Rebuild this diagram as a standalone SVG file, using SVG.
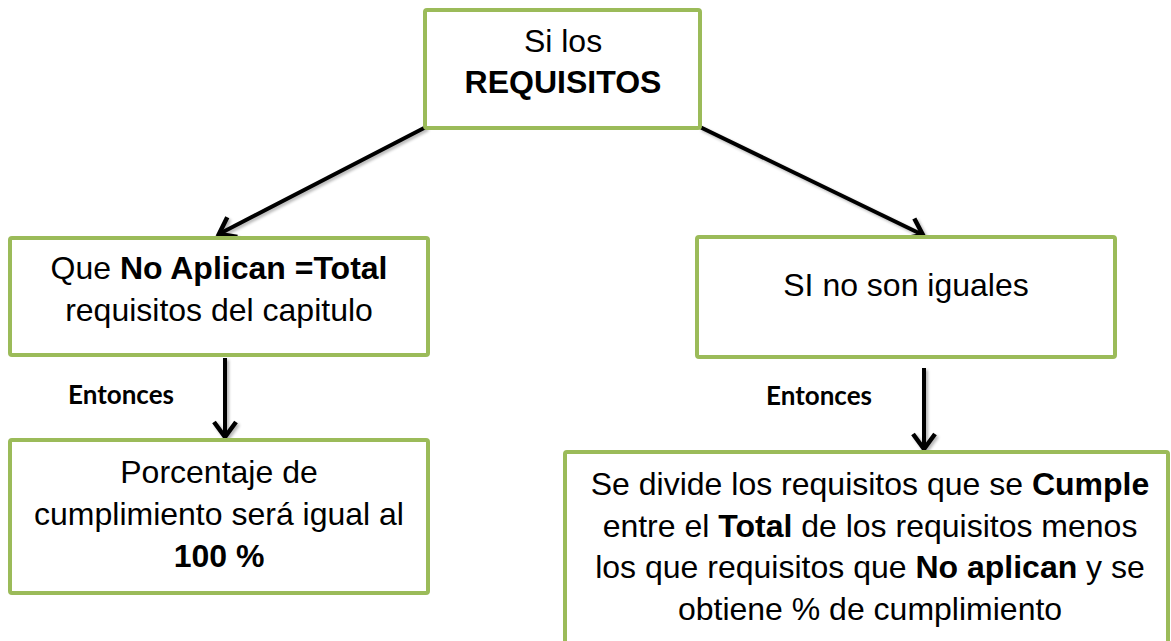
<svg xmlns="http://www.w3.org/2000/svg" width="1171" height="641" viewBox="0 0 1171 641">
<defs>
<style>
.box{fill:#fff;stroke:#9BBB59;stroke-width:4;}
.t{font-family:"Liberation Sans",Arial,sans-serif;font-size:32px;fill:#000;text-anchor:middle;}
.b{font-weight:bold;}
.lbl{font-family:Lato,"Open Sans",sans-serif;font-weight:bold;font-size:26px;fill:#000;text-anchor:middle;}
.c{stroke:#000;stroke-width:4;fill:none;}
</style>
<filter id="sh" x="-20%" y="-20%" width="140%" height="140%">
<feGaussianBlur in="SourceAlpha" stdDeviation="1.5"/>
<feOffset dx="2" dy="2" result="o"/>
<feComponentTransfer><feFuncA type="linear" slope="0.3"/></feComponentTransfer>
<feMerge><feMergeNode/><feMergeNode in="SourceGraphic"/></feMerge>
</filter>
<marker id="ah" markerUnits="userSpaceOnUse" markerWidth="32" markerHeight="32" viewBox="-20 -16 25 32" refX="0" refY="0" orient="auto">
<path d="M-15,-11 L0,0 L-15,11" fill="none" stroke="#000" stroke-width="4.5"/>
</marker>
</defs>
<rect width="1171" height="641" fill="#fff"/>
<g id="connectors" filter="url(#sh)">
<line class="c" x1="426" y1="127" x2="219" y2="234" marker-end="url(#ah)"/>
<line class="c" x1="700" y1="127" x2="923" y2="235" marker-end="url(#ah)"/>
<line class="c" x1="225" y1="358" x2="225" y2="437" marker-end="url(#ah)"/>
<line class="c" x1="924" y1="368" x2="924" y2="449" marker-end="url(#ah)"/>
</g>
<g id="n1">
<rect class="box" x="425" y="10" width="275" height="118" rx="2"/>
<text class="t" x="563" y="52">Si los</text>
<text class="t b" x="563" y="93">REQUISITOS</text>
</g>
<g id="n2">
<rect class="box" x="10" y="238" width="418" height="117" rx="2"/>
<text class="t" x="219" y="279">Que <tspan class="b">No Aplican =Total</tspan></text>
<text class="t" x="219" y="321">requisitos del capitulo</text>
</g>
<g id="n3">
<rect class="box" x="697" y="237" width="418" height="120" rx="2"/>
<text class="t" x="906" y="296">SI no son iguales</text>
</g>
<g id="l1"><text class="lbl" x="121" y="404">Entonces</text></g>
<g id="l2"><text class="lbl" x="819" y="405">Entonces</text></g>
<g id="n4">
<rect class="box" x="10" y="440" width="418" height="153" rx="2"/>
<text class="t" x="219" y="483">Porcentaje de</text>
<text class="t" x="219" y="525">cumplimiento será igual al</text>
<text class="t b" x="219" y="567">100 %</text>
</g>
<g id="n5">
<rect class="box" x="565" y="452" width="603" height="200" rx="2"/>
<text class="t" x="870" y="495">Se divide los requisitos que se <tspan class="b">Cumple</tspan></text>
<text class="t" x="870" y="537">entre el <tspan class="b">Total</tspan> de los requisitos menos</text>
<text class="t" x="870" y="578">los que requisitos que <tspan class="b">No aplican</tspan> y se</text>
<text class="t" x="870" y="620">obtiene % de cumplimiento</text>
</g>
</svg>
